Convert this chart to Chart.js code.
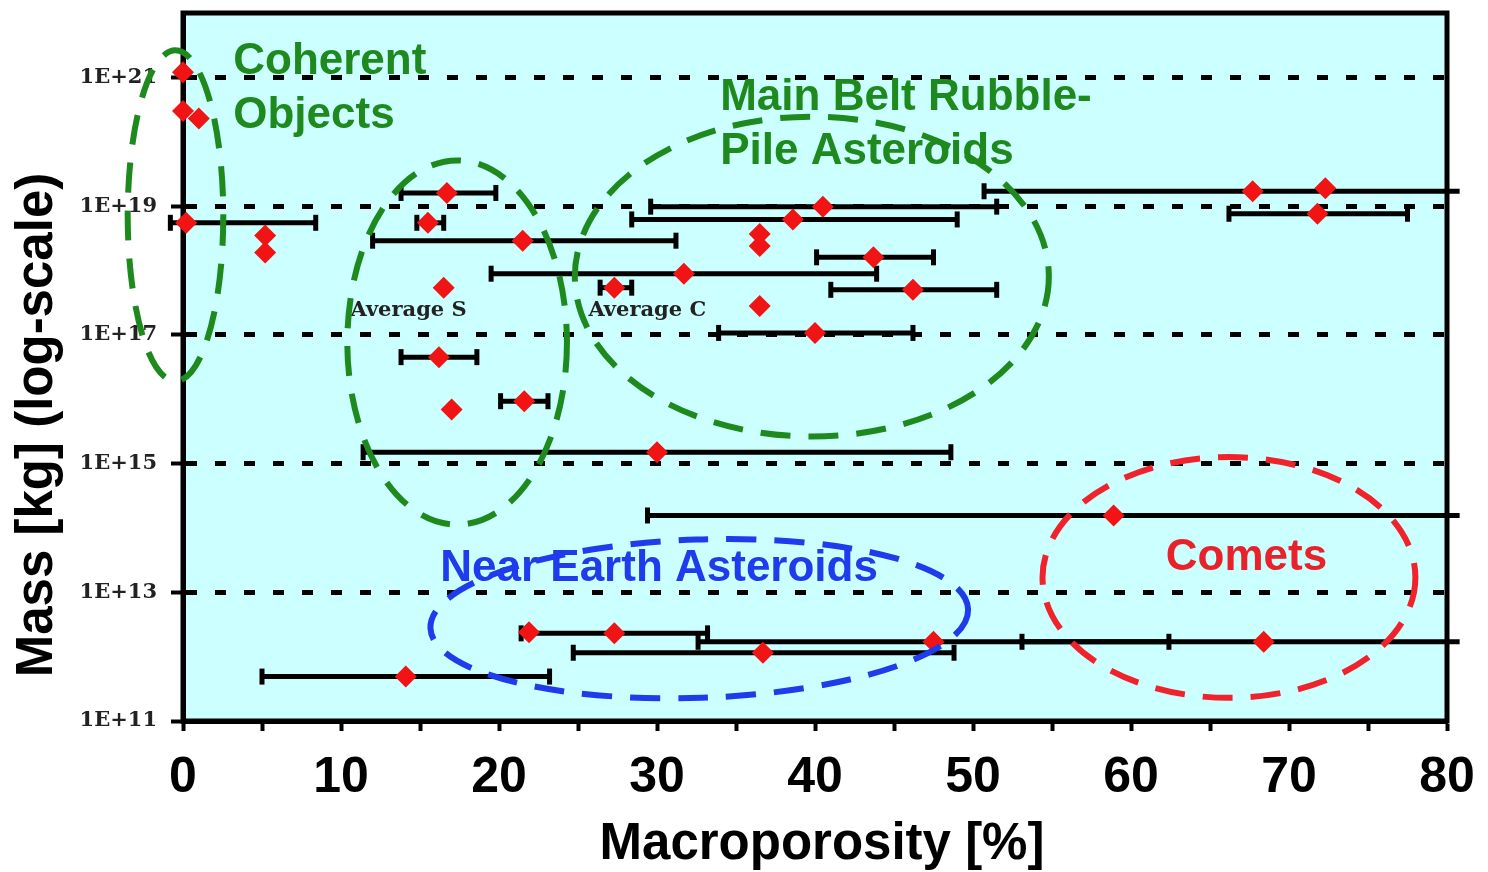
<!DOCTYPE html>
<html>
<head>
<meta charset="utf-8">
<script src="https://cdn.jsdelivr.net/npm/chart.js@4.4.1/dist/chart.umd.min.js"></script>
<style>
  html, body { margin: 0; padding: 0; background: #fff; }
  #wrap { width: 1488px; height: 872px; }
</style>
</head>
<body>
<div id="wrap"><canvas id="massChart" width="1488" height="872"></canvas></div>
<script>
// macroporosity [%] of each body and its mass [kg]
const porosity = [0, 0, 1.0, 0.2, 5.2, 5.2, 16.7, 15.5, 21.5, 16.5, 16.2, 17.0, 21.6, 30.0, 27.3, 31.7, 36.5, 40.0, 46.2, 43.7, 36.5, 36.5, 38.6, 40.5, 67.7, 72.3, 71.8, 14.1, 21.9, 27.3, 36.7, 47.5, 68.4, 58.9];
const mass = [1.2e21, 3.0e20, 2.3e20, 5.5e18, 3.5e18, 1.9e18, 1.6e19, 5.5e18, 2.9e18, 5.4e17, 4.5e16, 6.9e15, 9.3e15, 1.5e15, 5.4e17, 8.9e17, 2.8e17, 1.07e17, 5.0e17, 1.6e18, 3.7e18, 2.4e18, 6.2e18, 9.8e18, 1.7e19, 1.9e19, 7.6e18, 4.9e11, 2.4e12, 2.3e12, 1.15e12, 1.7e12, 1.7e12, 1.56e14];
// error range of the porosity (null = no bar)
const porosityLow = [null, null, null, -0.8, null, null, 13.8, 14.8, 12.0, null, 13.8, null, 20.1, 11.4, 26.4, 19.5, null, 33.9, 41.0, 40.1, null, null, 28.4, 29.6, 50.7, null, 66.2, 5.0, null, 21.4, 24.7, 32.6, 53.1, 29.4];
const porosityHigh = [null, null, null, 8.4, null, null, 19.8, 16.5, 31.2, null, 18.6, null, 23.1, 48.6, 28.4, 43.9, null, 46.2, 51.5, 47.5, null, null, 49.0, 51.5, 80.8, null, 77.5, 23.2, null, 33.2, 48.8, 62.4, 80.8, 80.8];

const xTicks = [0, 5, 10, 15, 20, 25, 30, 35, 40, 45, 50, 55, 60, 65, 70, 75, 80];
const massTicks = [1e11, 1e13, 1e15, 1e17, 1e19, 1e21];

const sans = "'Liberation Sans', Arial, sans-serif";
const serif = "'DejaVu Serif', serif";
const green = "#1E8A1E";

// group labels, placed in data units (porosity, log10 mass of the baseline)
const groupLabels = [
  { text: "Coherent", x: 3.18, y: 21.06, color: green, font: "bold 44px " + sans },
  { text: "Objects", x: 3.18, y: 20.21, color: green, font: "bold 44px " + sans },
  { text: "Main Belt Rubble-", x: 34.0, y: 20.49, color: green, font: "bold 44px " + sans },
  { text: "Pile Asteroids", x: 34.0, y: 19.66, color: green, font: "bold 44px " + sans },
  { text: "Near Earth Asteroids", x: 16.28, y: 13.17, color: "#1E3CEB", font: "bold 44px " + sans },
  { text: "Comets", x: 62.2, y: 13.35, color: "#E8222B", font: "bold 44px " + sans },
  { text: "Average S", x: 10.6, y: 17.29, color: "#222", font: "bold 21px " + serif },
  { text: "Average C", x: 25.66, y: 17.29, color: "#222", font: "bold 21px " + serif },
];

// dashed group outlines: porosity range and log10 mass range
const groupRings = [
  { x0: -3.5, x1: 2.55, top: 21.42, bottom: 16.28, rot: 0, color: green },
  { x0: 10.4, x1: 24.3, top: 19.71, bottom: 14.05, rot: 0, color: green },
  { x0: 24.8, x1: 54.8, top: 20.39, bottom: 15.42, rot: 0, color: green },
  { x0: 15.65, x1: 49.7, top: 13.82, bottom: 11.36, rot: -2, color: "#1E3CEB" },
  { x0: 54.4, x1: 78.0, top: 15.10, bottom: 11.36, rot: 0, color: "#F0222B" },
];

const framePlugin = {
  id: "frame",
  beforeDraw(chart) {
    const { ctx, chartArea: a } = chart;
    ctx.save();
    ctx.fillStyle = "#fff";
    ctx.fillRect(0, 0, chart.width, chart.height);
    ctx.fillStyle = "#CCFFFF";
    ctx.fillRect(a.left, a.top, a.right - a.left, a.bottom - a.top);
    ctx.restore();
  },
  beforeDatasetsDraw(chart) {
    const { ctx, chartArea: a } = chart;
    ctx.save();
    ctx.strokeStyle = "#000";
    ctx.lineWidth = 5;
    ctx.strokeRect(a.left, a.top, a.right - a.left, a.bottom - a.top);
    ctx.restore();
  },
};

const notesPlugin = {
  id: "notes",
  afterDatasetsDraw(chart) {
    const { ctx, scales } = chart;
    const px = (v) => scales.x.getPixelForValue(v);
    const py = (e) => scales.y.getPixelForValue(Math.pow(10, e));
    ctx.save();
    ctx.textBaseline = "alphabetic";
    ctx.textAlign = "left";
    groupLabels.forEach((l) => {
      ctx.font = l.font;
      ctx.fillStyle = l.color;
      ctx.fillText(l.text, px(l.x), py(l.y));
    });
    ctx.setLineDash([30, 18]);
    ctx.lineWidth = 6;
    groupRings.forEach((r) => {
      const x0 = px(r.x0), x1 = px(r.x1), y0 = py(r.top), y1 = py(r.bottom);
      ctx.beginPath();
      ctx.ellipse((x0 + x1) / 2, (y0 + y1) / 2, (x1 - x0) / 2, (y1 - y0) / 2, (r.rot * Math.PI) / 180, 0, Math.PI * 2);
      ctx.strokeStyle = r.color;
      ctx.stroke();
    });
    ctx.setLineDash([]);

    // axis titles
    ctx.fillStyle = "#000";
    ctx.font = "bold 51px " + sans;
    ctx.textAlign = "center";
    ctx.textBaseline = "middle";
    ctx.fillText("Macroporosity [%]", 822, 845);
    ctx.translate(38, 425);
    ctx.rotate(-Math.PI / 2);
    ctx.fillText("Mass [kg] (log-scale)", 0, 0);
    ctx.restore();
  },
};

const datasets = [
  {
    data: porosity.map((p, i) => ({ x: p, y: mass[i] })),
    pointStyle: "rectRot",
    pointRadius: 11,
    pointHoverRadius: 11,
    pointBackgroundColor: "#F01414",
    pointBorderWidth: 0,
    showLine: false,
    clip: false,
    order: 0,
  },
];

porosity.forEach((p, i) => {
  if (porosityLow[i] === null) return;
  datasets.push({
    data: [
      { x: porosityLow[i], y: mass[i] },
      { x: porosityHigh[i], y: mass[i] },
    ],
    showLine: true,
    borderColor: "#000",
    borderWidth: 5,
    pointStyle: "line",
    pointRotation: 90,
    pointRadius: [8, porosityHigh[i] > 80 ? 0 : 8],
    pointBorderWidth: 5,
    pointBorderColor: "#000",
    clip: false,
    order: 1,
  });
});

new Chart(document.getElementById("massChart"), {
  type: "scatter",
  data: { datasets: datasets },
  options: {
    responsive: false,
    animation: false,
    layout: { padding: { top: 13, right: 41, left: 0, bottom: 0 } },
    plugins: {
      legend: { display: false },
      tooltip: { enabled: false },
    },
    scales: {
      x: {
        type: "linear",
        min: 0,
        max: 80,
        afterBuildTicks: (s) => {
          s.ticks = xTicks.map((v) => ({ value: v }));
        },
        afterFit: (s) => {
          s.height = 151;
          s.paddingLeft = 0;
          s.paddingRight = 0;
        },
        ticks: {
          callback: (v) => (v % 10 === 0 ? String(v) : ""),
          font: { family: sans, weight: "bold", size: 50 },
          color: "#000",
          padding: 17,
          maxRotation: 0,
          autoSkip: false,
        },
        grid: {
          drawOnChartArea: false,
          drawTicks: true,
          tickLength: 10,
          tickWidth: 4,
          tickColor: "#000",
        },
        border: { display: true, color: "#000", width: 5 },
      },
      y: {
        type: "logarithmic",
        min: 1e11,
        max: 1e22,
        afterBuildTicks: (s) => {
          s.ticks = massTicks.map((v) => ({ value: v }));
        },
        afterFit: (s) => {
          s.width = 183;
          s.paddingTop = 0;
          s.paddingBottom = 0;
        },
        ticks: {
          callback: (v) => "1E+" + Math.round(Math.log10(v)),
          font: { family: serif, weight: "bold", size: 21 },
          color: "#222",
          padding: 14,
          autoSkip: false,
        },
        grid: {
          color: "#000",
          lineWidth: 5,
          drawTicks: true,
          tickLength: 12,
          tickWidth: 4,
          tickColor: "#000",
        },
        border: { display: true, color: "#000", width: 5, dash: [11, 18] },
      },
    },
  },
  plugins: [framePlugin, notesPlugin],
});
</script>
</body>
</html>
